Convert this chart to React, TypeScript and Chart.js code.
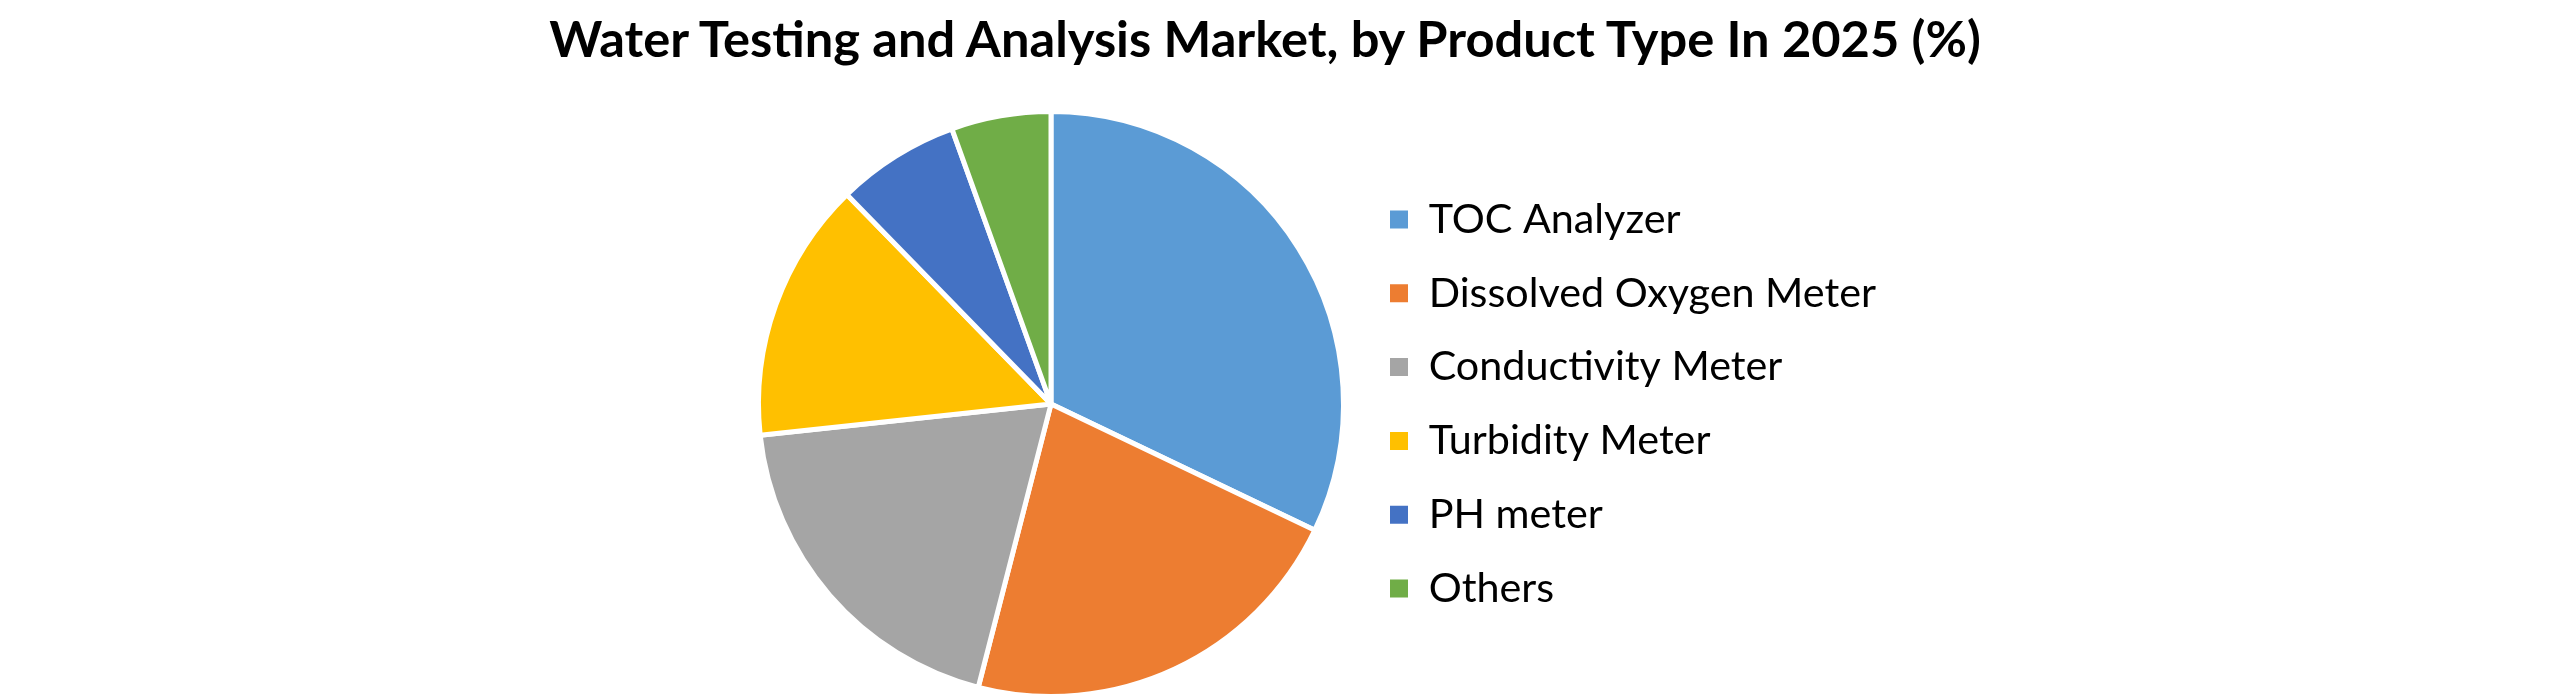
import React, { useEffect, useRef } from 'react';
import Chart from 'chart.js/auto';

const TITLE = 'Water Testing and Analysis Market, by Product Type In 2025 (%)';

const productTypes = [
    'TOC Analyzer',
    'Dissolved Oxygen Meter',
    'Conductivity Meter',
    'Turbidity Meter',
    'PH meter',
    'Others',
];
const shares = [32.1, 21.9, 19.3, 14.4, 6.8, 5.5];
const sliceColors = ['#5B9BD5', '#ED7D31', '#A5A5A5', '#FFC000', '#4472C4', '#70AD47'];

const FONT = 'Lato, Carlito, Calibri, "Open Sans", sans-serif';

// layout of the original picture (px)
const WIDTH = 2560;
const HEIGHT = 700;
const PIE_X = 1051;
const PIE_Y = 404;
const PIE_RADIUS = 292.5;
const LEGEND_X = 1390;
const LEGEND_BOX = 18;
const ROW_GAP = 73.8;
const TITLE_CENTER = 1265;
const TITLE_BASELINE = 58;

const measure = (text: string, font: string) => {
    const ctx = document.createElement('canvas').getContext('2d')!;
    ctx.font = font;
    return ctx.measureText(text).width;
};

// font size at which the text gets the given width
const fitFontSize = (text: string, weight: string, width: number) =>
    Math.round(((100 * width) / measure(text, `${weight} 100px ${FONT}`)) * 10) / 10;

const WaterTestingPieChart: React.FC = () => {
    const chartRef = useRef<HTMLCanvasElement>(null);
    const chartInstance = useRef<Chart | null>(null);

    const titleSize = fitFontSize(TITLE, 'bold', 1440);

    useEffect(() => {
        if (!chartRef.current) return;

        if (chartInstance.current) {
            chartInstance.current.destroy();
        }

        const legendSize = fitFontSize('Dissolved Oxygen Meter', 'normal', 447);
        const legendPadding = ROW_GAP - legendSize;
        const longestLabel = Math.max(...productTypes.map(t => measure(t, `${legendSize}px ${FONT}`)));
        // same sum Chart.js uses for a vertical legend
        const legendWidth = legendPadding + LEGEND_BOX + legendSize / 2 + longestLabel + 10;

        const chartRight = LEGEND_X - legendPadding;
        const chartLeft = 2 * PIE_X - chartRight;
        const chartTop = 2 * PIE_Y - HEIGHT;

        const defaultLabels = (Chart as any).overrides.doughnut.plugins.legend.labels.generateLabels;

        chartInstance.current = new Chart(chartRef.current, {
            type: 'pie',
            data: {
                labels: productTypes,
                datasets: [{
                    data: shares,
                    backgroundColor: sliceColors,
                    borderColor: '#FFFFFF',
                    borderWidth: 5,
                    radius: PIE_RADIUS,
                }],
            },
            options: {
                responsive: true,
                maintainAspectRatio: false,
                animation: false,
                events: [],
                layout: {
                    padding: {
                        left: chartLeft,
                        right: WIDTH - chartRight - legendWidth,
                        top: chartTop,
                        bottom: 0,
                    },
                },
                plugins: {
                    title: { display: false },
                    tooltip: { enabled: false },
                    legend: {
                        position: 'right',
                        align: 'center',
                        labels: {
                            boxWidth: LEGEND_BOX,
                            boxHeight: LEGEND_BOX,
                            padding: legendPadding,
                            color: '#000000',
                            font: { family: FONT, size: legendSize },
                            generateLabels: (chart: Chart) =>
                                defaultLabels(chart).map((item: any) => ({ ...item, lineWidth: 0 })),
                        },
                    },
                },
            },
        });

        return () => {
            if (chartInstance.current) {
                chartInstance.current.destroy();
                chartInstance.current = null;
            }
        };
    }, []);

    return (
        <div style={{ position: 'fixed', left: 0, top: 0, width: WIDTH, height: HEIGHT, background: '#FFFFFF' }}>
            <div
                style={{
                    position: 'absolute',
                    left: 0,
                    width: 2 * TITLE_CENTER,
                    top: TITLE_BASELINE - 0.987 * titleSize,
                    textAlign: 'center',
                    fontFamily: FONT,
                    fontWeight: 'bold',
                    fontSize: titleSize,
                    lineHeight: 1.2,
                    color: '#000000',
                    whiteSpace: 'nowrap',
                }}
            >
                {TITLE}
            </div>
            <canvas ref={chartRef} style={{ position: 'absolute', left: 0, top: 0 }} />
        </div>
    );
};

export default function App() {
    return <WaterTestingPieChart />;
}
